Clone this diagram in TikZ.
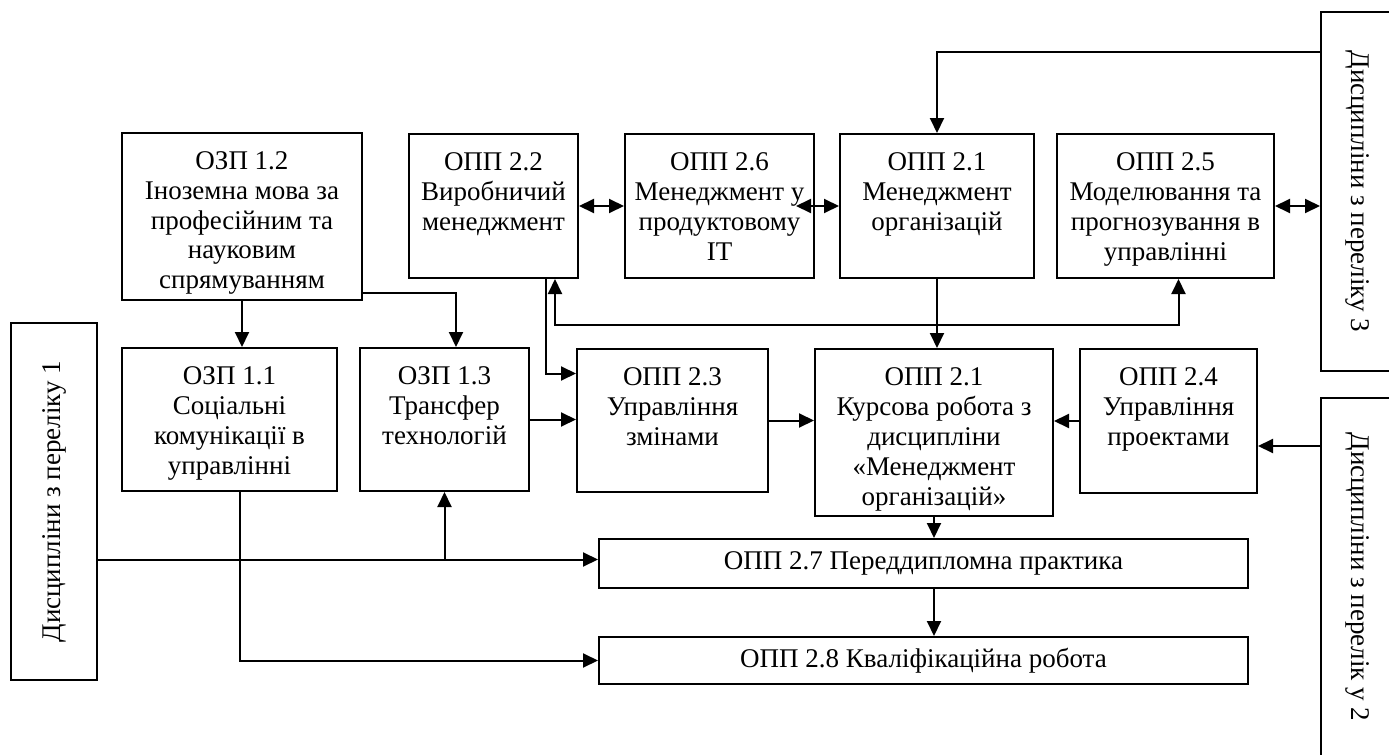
\documentclass[tikz,border=0pt]{standalone}
\usepackage{fontspec}
\setmainfont{Liberation Serif}
\usetikzlibrary{arrows.meta, positioning, calc}

\newcommand{\topcell}[3]{\parbox[t][#2][t]{#1}{\centering\rule{0pt}{18pt}#3}}

\begin{document}
\begin{tikzpicture}[
    x=0.5pt, y=-0.5pt,
    box/.style={rectangle, draw, line width=1pt, inner sep=0pt, anchor=north west, font=\fontsize{13.5}{15}\selectfont},
    strip/.style={rectangle, draw, line width=1pt, inner sep=0pt, font=\fontsize{13.5}{15}\selectfont},
    arrow/.style={-{Triangle[length=7.5pt, width=7pt]}, line width=1pt},
    twoway/.style={{Triangle[length=7.5pt, width=7pt]}-{Triangle[length=7.5pt, width=7pt]}, line width=1pt}
]
\useasboundingbox (0,0) rectangle (1389,755);

% Row 1
\node[box] (o12) at (121,132) {\topcell{120pt}{83.5pt}{ОЗП 1.2\\Іноземна мова за\\професійним та\\науковим\\спрямуванням}};
\node[box] (o22) at (408,133) {\topcell{84.5pt}{72pt}{ОПП 2.2\\Виробничий\\менеджмент}};
\node[box] (o26) at (624,133) {\topcell{94.5pt}{72pt}{ОПП 2.6\\Менеджмент у\\продуктовому\\IT}};
\node[box] (o21) at (839,133) {\topcell{97pt}{72pt}{ОПП 2.1\\Менеджмент\\організацій}};
\node[box] (o25) at (1056,133) {\topcell{108.5pt}{72pt}{ОПП 2.5\\Моделювання та\\прогнозування в\\управлінні}};

% Row 2
\node[box] (o11) at (121,347) {\topcell{107.5pt}{71.5pt}{ОЗП 1.1\\Соціальні\\комунікації в\\управлінні}};
\node[box] (o13) at (359,347) {\topcell{84.5pt}{71.5pt}{ОЗП 1.3\\Трансфер\\технологій}};
\node[box] (o23) at (576,348) {\topcell{95.5pt}{71.5pt}{ОПП 2.3\\Управління\\змінами}};
\node[box] (kurs) at (814,348) {\topcell{119pt}{83.5pt}{ОПП 2.1\\Курсова робота з\\дисципліни\\«Менеджмент\\організацій»}};
\node[box] (o24) at (1079,348) {\topcell{88.5pt}{72pt}{ОПП 2.4\\Управління\\проектами}};

% Practice and thesis
\node[box, minimum width=324.5pt, minimum height=24.5pt] (o27) at (598,538) {ОПП 2.7 Переддипломна практика};
\node[box, minimum width=324.5pt, minimum height=23.5pt] (o28) at (598,636) {ОПП 2.8 Кваліфікаційна робота};

% Lists of disciplines
\node[strip, rotate=90, minimum width=178.5pt, minimum height=43pt] (list1) at (54,501.5) {Дисципліни з переліку 1};
\node[strip, rotate=-90, minimum width=179.5pt, minimum height=37pt] (list3) at (1358,191.5) {Дисципліни з переліку 3};
\node[strip, rotate=-90, minimum width=179pt, minimum height=37pt] (list2) at (1358,577) {Дисципліни з перелік у 2};

\coordinate (p24) at ($(o24.east)+(0,25)$);
\coordinate (p27) at ($(o27.west)+(0,-4)$);

% Arrows
\draw[arrow] (o12.south) -- (o12.south |- o11.north);
\draw[arrow] ([yshift=4pt]o12.south east) -| ([xshift=5.75pt]o13.north);
\draw[twoway] (o22.east) -- (o26.west);
\draw[twoway] ([xshift=-9.5pt]o26.east) -- (o21.west);
\draw[twoway] (o25.east) -- (o25.east -| list3.south);
\draw[arrow] ([yshift=-20.5pt]list3.south west) -| (o21.north);
\draw[arrow] (o21.south) -- (o21.south |- kurs.north);
\draw[twoway] ([xshift=-12pt]o22.south east) -- ++(0,46) -| ([xshift=6.5pt]o25.south);
\draw[arrow] ([xshift=-16.5pt]o22.south east) |- ([yshift=23.5pt]o23.west);
\draw[arrow] (o13.east) -- (o13.east -| o23.west);
\draw[arrow] (o23.east) -- (o23.east -| kurs.west);
\draw[arrow] (o24.west) -- (o24.west -| kurs.east);
\draw[arrow] (p24 -| list2.south) -- (p24);
\draw[arrow] (kurs.south) -- (kurs.south |- o27.north);
\draw[arrow] (kurs.south |- o27.south) -- (kurs.south |- o28.north);
\draw[arrow] (p27 -| list1.south) -- (p27);
\draw[arrow] (o13.south |- p27) -- (o13.south);
\draw[arrow] ([xshift=5pt]o11.south) |- (o28.west);

\end{tikzpicture}
\end{document}
